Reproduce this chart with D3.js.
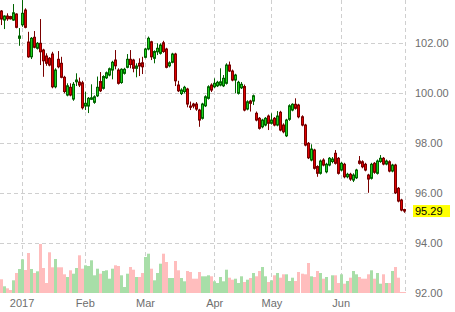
<!DOCTYPE html>
<html>
<head>
<meta charset="utf-8">
<script src="https://cdn.jsdelivr.net/npm/d3@7"></script>
<style>
  body { margin: 0; background: #fff; }
  text { font-family: "Liberation Sans", Arial, sans-serif; }
</style>
</head>
<body>
<div id="chart"></div>
<script>
// trading sessions, Dec 2016 - Jun 2017
const dates = [
  "2016-12-21","2016-12-22","2016-12-23","2016-12-27","2016-12-28","2016-12-29","2016-12-30",
  "2017-01-03","2017-01-04","2017-01-05","2017-01-06","2017-01-09","2017-01-10","2017-01-11","2017-01-12","2017-01-13",
  "2017-01-16","2017-01-17","2017-01-18","2017-01-19","2017-01-20","2017-01-23","2017-01-24","2017-01-25","2017-01-26",
  "2017-01-27","2017-01-30","2017-01-31",
  "2017-02-01","2017-02-02","2017-02-03","2017-02-06","2017-02-07","2017-02-08","2017-02-09","2017-02-10","2017-02-13",
  "2017-02-14","2017-02-15","2017-02-16","2017-02-17","2017-02-20","2017-02-21","2017-02-22","2017-02-23","2017-02-24",
  "2017-02-27","2017-02-28",
  "2017-03-01","2017-03-02","2017-03-03","2017-03-06","2017-03-07","2017-03-08","2017-03-09","2017-03-10","2017-03-13",
  "2017-03-14","2017-03-15","2017-03-16","2017-03-17","2017-03-20","2017-03-21","2017-03-22","2017-03-23","2017-03-24",
  "2017-03-27","2017-03-28","2017-03-29","2017-03-30","2017-03-31",
  "2017-04-03","2017-04-04","2017-04-05","2017-04-06","2017-04-07","2017-04-10","2017-04-11","2017-04-12","2017-04-13",
  "2017-04-17","2017-04-18","2017-04-19","2017-04-20","2017-04-21","2017-04-24","2017-04-25","2017-04-26","2017-04-27",
  "2017-04-28",
  "2017-05-01","2017-05-02","2017-05-03","2017-05-04","2017-05-05","2017-05-08","2017-05-09","2017-05-10","2017-05-11",
  "2017-05-12","2017-05-15","2017-05-16","2017-05-17","2017-05-18","2017-05-19","2017-05-22","2017-05-23","2017-05-24",
  "2017-05-25","2017-05-26","2017-05-29","2017-05-30","2017-05-31",
  "2017-06-01","2017-06-02","2017-06-05","2017-06-06","2017-06-07","2017-06-08","2017-06-09","2017-06-12","2017-06-13",
  "2017-06-14","2017-06-15","2017-06-16","2017-06-19","2017-06-20","2017-06-21","2017-06-22","2017-06-23","2017-06-26",
  "2017-06-27","2017-06-28","2017-06-29","2017-06-30"
];

const open = [
  103.29,102.93,103.09,103.07,102.93,103.17,102.20,102.74,103.33,102.05,101.46,102.24,101.80,102.00,101.73,101.49,
  101.40,101.57,100.26,101.36,101.20,100.64,99.93,100.24,99.77,100.46,100.45,100.42,99.49,99.49,99.76,99.64,
  99.90,100.47,100.20,100.62,100.73,100.93,101.33,100.93,100.43,100.80,101.04,101.36,101.33,101.00,101.20,101.22,
  101.44,101.77,102.06,101.40,101.66,101.60,102.02,101.77,101.10,101.24,101.57,100.33,99.99,100.07,100.17,99.49,
  99.57,99.57,99.33,99.00,99.50,99.80,100.33,100.26,100.30,100.33,100.30,100.40,101.13,100.89,100.53,100.00,
  100.22,100.27,99.37,99.69,99.69,99.20,99.00,98.66,98.73,99.09,98.80,99.00,98.73,99.24,98.73,98.30,
  98.96,99.33,99.56,99.53,99.06,98.73,98.00,97.33,97.73,97.07,96.80,97.33,96.86,97.13,97.27,97.60,
  97.40,96.93,97.16,96.66,96.76,96.53,96.62,97.29,97.26,97.16,96.73,96.60,97.20,96.80,97.27,97.40,
  97.17,97.26,96.89,97.13,96.20,95.73,95.35
];
const high = [
  103.33,103.12,103.20,103.10,103.57,103.20,102.61,103.73,103.40,102.46,102.25,102.49,102.05,102.97,101.78,101.60,
  101.45,101.66,101.00,101.69,101.46,100.70,100.40,100.40,100.45,100.80,100.63,100.50,100.06,99.85,100.36,99.92,
  100.67,100.85,100.72,100.87,101.03,101.30,101.73,101.00,101.00,101.02,101.57,101.73,101.38,101.20,101.40,101.46,
  101.82,102.27,102.10,101.72,102.00,102.00,102.10,101.82,101.28,101.62,101.62,100.50,100.20,100.30,100.22,99.67,
  99.62,99.65,99.38,99.62,99.92,100.32,100.40,100.60,100.50,101.00,100.73,101.20,101.27,100.95,100.78,100.50,
  100.45,100.35,99.72,99.74,99.95,99.27,99.05,98.98,99.05,99.15,99.20,99.05,99.29,99.30,98.80,98.98,
  99.56,99.60,99.80,99.58,99.12,98.78,98.05,97.96,97.78,97.12,97.35,97.40,97.22,97.45,97.45,97.73,
  97.45,97.25,97.22,96.82,96.82,96.80,96.98,97.49,97.32,97.22,96.78,97.22,97.25,97.35,97.53,97.45,
  97.35,97.32,97.18,97.18,96.25,95.78,95.38
];
const low = [
  102.73,102.57,102.90,102.95,102.90,102.60,101.90,102.66,102.60,101.42,101.37,101.80,101.75,101.13,100.66,101.10,
  101.08,100.20,100.20,101.00,100.60,100.00,99.88,99.88,99.70,100.29,100.25,99.35,99.33,99.21,99.73,99.58,
  99.85,100.05,100.15,100.57,100.68,100.56,100.96,100.35,100.38,100.75,101.00,101.00,100.84,100.64,100.69,100.77,
  101.40,101.72,101.33,101.20,101.53,101.55,101.62,101.00,101.04,101.20,100.29,100.05,99.93,100.00,99.44,99.33,
  99.40,99.30,98.66,98.95,99.45,99.75,100.05,100.20,100.25,100.28,100.25,100.35,100.85,100.48,100.00,99.95,
  100.17,99.28,99.32,99.27,99.53,98.88,98.55,98.60,98.68,98.53,98.75,98.68,98.68,98.48,98.40,98.25,
  98.90,99.28,99.35,99.00,98.68,97.88,97.37,97.28,96.95,96.66,96.75,97.08,96.80,97.08,97.20,97.15,
  96.75,96.88,96.60,96.60,96.50,96.45,96.57,97.15,97.00,96.88,96.02,96.55,96.78,96.75,97.22,97.12,
  97.12,96.84,96.84,95.97,95.64,95.28,95.22
];
const close = [
  102.97,103.09,102.98,102.98,103.22,102.64,102.29,103.20,102.64,101.46,102.20,101.84,102.00,101.66,101.30,101.20,
  101.13,100.26,100.93,101.06,100.64,100.07,100.30,99.93,100.36,100.53,100.33,99.42,99.60,99.80,99.82,99.86,
  100.24,100.10,100.67,100.82,100.98,101.24,101.10,100.40,100.96,100.96,101.36,101.15,101.00,101.09,101.09,101.06,
  101.77,102.20,101.46,101.67,101.80,101.93,101.67,101.04,101.22,101.57,100.50,100.10,100.13,100.24,99.57,99.44,
  99.49,99.37,98.93,99.57,99.86,100.26,100.13,100.40,100.44,100.46,100.60,101.13,100.89,100.53,100.73,100.44,
  100.36,99.33,99.66,99.60,99.90,98.93,98.60,98.93,99.00,98.80,98.93,98.73,99.09,98.53,98.46,98.93,
  99.50,99.56,99.40,99.06,98.73,97.93,97.42,97.77,97.00,96.80,97.29,97.13,97.16,97.40,97.37,97.20,
  96.80,97.20,96.66,96.76,96.57,96.73,96.93,97.20,97.06,96.93,96.57,97.16,96.84,97.29,97.40,97.17,
  97.29,96.89,97.13,96.02,95.69,95.33,95.29
];
// volume in thousand contracts
const volume = [
  13.7,6.7,4.7,3,12.7,20,24,33.7,23,40,24,20,21.7,49,25,10,
  40.7,25.7,34,25.7,25.7,18.7,16,22.7,19.3,25,37.7,24.3,27.7,27,32.7,17.7,
  24.3,19.3,22,22.7,14.3,24.3,27.7,27,17.7,6,19.3,26,23.3,16,16,20,
  36,39.3,24.3,12.7,20,29.3,39.3,31,15,15,32,22.7,15,11.7,22,21,
  14.3,14.3,21,16.7,16.7,17.7,16.7,11.7,10,16,11.7,23.3,15.3,13.3,14.3,10,
  16.7,11,13.3,15,20,16.7,22,26,16.7,11,12.7,17.7,20,15.3,18.7,18.7,
  12,15.3,12,21,19.3,18.7,30,16.7,16,22,20,14.3,16,2.7,17.7,17.7,
  10,18.7,9.3,12,15.3,22,18.7,16,14.3,14.3,18.7,22.7,14.3,20,9.3,18.7,
  10,10,22,26,15.3,1,1
];

const yTicks = [92, 94, 96, 98, 100, 102];
const monthLabels = ["2017", "Feb", "Mar", "Apr", "May", "Jun"];
const lastPrice = 95.29;

const W = 455, H = 312;
const plotRight = 405.7, plotBottom = 293;

const svg = d3.select("#chart").append("svg")
  .attr("width", W).attr("height", H);

const x = d3.scaleBand().domain(dates).range([-0.5, 405.85]).padding(0);
const y = d3.scaleLinear().domain([92, 102]).range([293.3, 43.3]);
const yVol = d3.scaleLinear().domain([0, 50]).range([plotBottom, plotBottom - 50]);

// first session of each month (skip the december stub)
const monthStarts = dates.filter((d, i) => i > 0 && d.slice(0, 7) !== dates[i - 1].slice(0, 7));

const cx = d => Math.floor(x(d) + x.bandwidth() / 2);

// grid
const grid = svg.append("g").attr("stroke", "#cfcfcf").attr("stroke-dasharray", "4,3");
grid.selectAll(".hg").data(yTicks.filter(t => t > 92)).join("line")
  .attr("x1", 0).attr("x2", plotRight)
  .attr("y1", d => Math.round(y(d)) + 0.5).attr("y2", d => Math.round(y(d)) + 0.5);
grid.selectAll(".vg").data(monthStarts).join("line")
  .attr("x1", d => cx(d) + 0.5).attr("x2", d => cx(d) + 0.5)
  .attr("y1", 0).attr("y2", plotBottom);
grid.append("line")
  .attr("x1", Math.floor(plotRight) + 0.5).attr("x2", Math.floor(plotRight) + 0.5)
  .attr("y1", 0).attr("y2", plotBottom);

const bars = dates.map((d, i) => ({ date: d, o: open[i], h: high[i], l: low[i], c: close[i], v: volume[i], up: close[i] >= open[i] }));

// volume
svg.append("g").selectAll("rect").data(bars).join("rect")
  .attr("x", d => cx(d.date) - 1)
  .attr("width", 3)
  .attr("y", d => yVol(d.v))
  .attr("height", d => plotBottom - yVol(d.v))
  .attr("fill", d => d.up ? "#a8dea8" : "#ffbdbd");

// candles
const candles = svg.append("g").selectAll("g").data(bars).join("g");
candles.append("line")
  .attr("x1", d => cx(d.date) + 0.5).attr("x2", d => cx(d.date) + 0.5)
  .attr("y1", d => y(d.h)).attr("y2", d => y(d.l))
  .attr("stroke", d => d.up ? "#006400" : "#7a0000");
candles.append("rect")
  .attr("x", d => cx(d.date) - 0.5)
  .attr("width", 2)
  .attr("y", d => y(Math.max(d.o, d.c)))
  .attr("height", d => Math.max(1, y(Math.min(d.o, d.c)) - y(Math.max(d.o, d.c))))
  .attr("fill", d => d.up ? "#1ed21e" : "#e00000")
  .attr("stroke", d => d.up ? "#006400" : "#7a0000")
  .attr("stroke-width", 1);

// axes
const yAxis = svg.append("g")
  .attr("transform", "translate(415,0)")
  .call(d3.axisRight(y).tickValues(yTicks).tickFormat(d3.format(".2f")).tickSize(0).tickPadding(0));
yAxis.select(".domain").remove();
yAxis.selectAll("text").attr("fill", "#6e6e6e").style("font-size", "11px");

const xAxis = svg.append("g")
  .attr("transform", `translate(0,${plotBottom})`)
  .call(d3.axisBottom(x).tickValues(monthStarts).tickFormat((d, i) => monthLabels[i]).tickSize(0).tickPadding(6));
xAxis.select(".domain").remove();
xAxis.selectAll("text").attr("fill", "#6e6e6e").style("font-size", "11px");

// last price tag
svg.append("rect")
  .attr("x", 413).attr("y", y(lastPrice) - 6)
  .attr("width", 37).attr("height", 12)
  .attr("fill", "#ffff00");
svg.append("text")
  .attr("x", 415).attr("y", y(lastPrice))
  .attr("dy", "0.35em")
  .style("font-size", "11px")
  .attr("fill", "#000")
  .text(lastPrice.toFixed(2));
</script>
</body>
</html>
